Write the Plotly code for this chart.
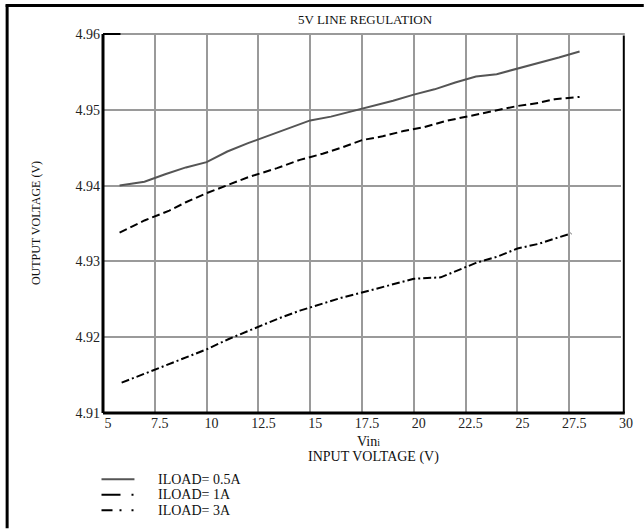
import plotly.graph_objects as go

# ---- data ----
x_05 = [5.8, 7.0, 8.0, 9.0, 10.0, 11.0, 12.0, 13.0, 14.0, 15.0, 16.0, 17.0, 18.0, 19.0,
        20.0, 21.0, 22.0, 23.0, 24.0, 25.0, 26.0, 27.0, 28.0]
y_05 = [4.9400, 4.9405, 4.9415, 4.9424, 4.9431, 4.9445, 4.9456, 4.9466, 4.9477, 4.9486,
        4.9491, 4.9498, 4.9505, 4.9512, 4.9520, 4.9527, 4.9536, 4.9544, 4.9547, 4.9554,
        4.9562, 4.9569, 4.9577]

x_1 = [5.8, 7.0, 8.2, 9.0, 10.0, 11.0, 12.0, 13.4, 14.5, 15.6, 16.5, 17.5, 18.5, 19.5,
       20.5, 21.5, 22.5, 23.5, 24.1, 25.0, 26.0, 26.8, 28.0]
y_1 = [4.9338, 4.9354, 4.9367, 4.9378, 4.9390, 4.9401, 4.9411, 4.9423, 4.9434, 4.9442,
       4.9450, 4.9460, 4.9465, 4.9472, 4.9477, 4.9485, 4.9491, 4.9497, 4.9500, 4.9505,
       4.9509, 4.9514, 4.9517]

x_3 = [5.9, 7.5, 8.5, 10.0, 11.1, 12.5, 13.5, 14.5, 15.6, 16.5, 17.5, 18.5, 20.0, 21.3,
       22.5, 23.0, 24.0, 25.0, 26.0, 26.8, 27.6]
y_3 = [4.9140, 4.9157, 4.9168, 4.9184, 4.9198, 4.9214, 4.9225, 4.9235, 4.9244, 4.9252,
       4.9259, 4.9266, 4.9277, 4.9279, 4.9293, 4.9298, 4.9306, 4.9317, 4.9323, 4.9330,
       4.9337]

x_ticks = [5, 7.5, 10, 12.5, 15, 17.5, 20, 22.5, 25, 27.5, 30]
x_tick_text = ["5", "7.5", "10", "12.5", "15", "17.5", "20", "22.5", "25", "27.5", "30"]
y_ticks = [4.91, 4.92, 4.93, 4.94, 4.95, 4.96]
y_tick_text = ["4.91", "4.92", "4.93", "4.94", "4.95", "4.96"]

series_names = ["ILOAD= 0.5A", "ILOAD= 1A", "ILOAD= 3A"]
series_colors = ["#555555", "#000000", "#000000"]
series_dash = ["solid", "8px,4px", "8px,3px,2px,3px"]
legend_dash = ["solid", "19px,11px,2px,30px", "11px,7px,2px,10px,2px,30px"]

# ---- layout geometry (pixels) ----
W, H = 644, 529
L, R, T, B = 102.5, 22.8, 33.5, 115.5
PW, PH = W - L - R, H - T - B


def xp(px):
    return (px - L) / PW


def yp(py):
    return (H - B - py) / PH


FONT = "Liberation Serif, Times New Roman, serif"
GRID = "#9a9a9a"
TXT = "#111111"

fig = go.Figure()
for xs, ys, nm, c, d in zip([x_05, x_1, x_3], [y_05, y_1, y_3], series_names,
                            series_colors, series_dash):
    fig.add_trace(go.Scatter(x=xs, y=ys, mode="lines", name=nm,
                             line=dict(color=c, width=2, dash=d)))

shapes = [
    # outer frame: top and left thick black lines
    dict(type="line", xref="paper", yref="paper", x0=xp(5), x1=xp(644), y0=yp(5), y1=yp(5),
         line=dict(color="black", width=3)),
    dict(type="line", xref="paper", yref="paper", x0=xp(6.5), x1=xp(6.5), y0=yp(4), y1=yp(529),
         line=dict(color="black", width=3)),
    # plot box: left and bottom black axes
    dict(type="line", xref="paper", yref="paper", x0=0, x1=0, y0=0, y1=1,
         line=dict(color="black", width=3)),
    dict(type="line", xref="paper", yref="paper", x0=0, x1=xp(625), y0=0, y1=0,
         line=dict(color="black", width=3)),
    # right black edge, slightly outside
    dict(type="line", xref="paper", yref="paper", x0=xp(624), x1=xp(624), y0=0, y1=yp(35),
         line=dict(color="black", width=2)),
    # top gray edge extension
    dict(type="line", xref="paper", yref="paper", x0=0, x1=xp(625), y0=1, y1=1,
         line=dict(color=GRID, width=2)),
    dict(type="line", xref="paper", yref="paper", x0=0, x1=xp(120), y0=1, y1=1,
         line=dict(color="black", width=2)),
]

annotations = [
    dict(text="5V LINE REGULATION", xref="paper", yref="paper", x=xp(365), y=yp(19),
         showarrow=False, xanchor="center", yanchor="middle",
         font=dict(family=FONT, size=13, color=TXT)),
    dict(text="OUTPUT VOLTAGE (V)", xref="paper", yref="paper", x=xp(35), y=0.5,
         showarrow=False, textangle=-90, xanchor="center", yanchor="middle",
         font=dict(family=FONT, size=12, color=TXT)),
    dict(text="Vin<span style='font-size:10px'>i</span>", xref="paper", yref="paper",
         x=xp(368), y=yp(442), showarrow=False, xanchor="center", yanchor="middle",
         font=dict(family=FONT, size=14, color=TXT)),
    dict(text="INPUT VOLTAGE (V)", xref="paper", yref="paper", x=xp(373), y=yp(458),
         showarrow=False, xanchor="center", yanchor="middle",
         font=dict(family=FONT, size=14, color=TXT)),
]

# legend key (drawn manually to match the compact reference spacing)
legend_y = [480, 495.5, 511]
for i, nm in enumerate(series_names):
    shapes.append(dict(type="line", xref="paper", yref="paper", x0=xp(101), x1=xp(134),
                       y0=yp(legend_y[i]), y1=yp(legend_y[i]),
                       line=dict(color=series_colors[i], width=2, dash=legend_dash[i])))
    annotations.append(dict(text=nm, xref="paper", yref="paper", x=xp(156), y=yp(legend_y[i]),
                            showarrow=False, xanchor="left", yanchor="middle",
                            font=dict(family=FONT, size=14, color=TXT)))

fig.update_layout(
    width=W, height=H,
    margin=dict(l=L, r=R, t=T, b=B, autoexpand=False),
    paper_bgcolor="white", plot_bgcolor="white",
    font=dict(family=FONT, size=14, color="#222222"),
    showlegend=False,
    xaxis=dict(range=[5, 30], tickvals=x_ticks, ticktext=x_tick_text,
               showgrid=True, gridcolor=GRID, gridwidth=2, zeroline=False,
               showline=False, ticks="", fixedrange=True, ticklabelshift=5,
               tickfont=dict(family=FONT, size=14, color="#222222")),
    yaxis=dict(range=[4.91, 4.96], tickvals=y_ticks, ticktext=y_tick_text,
               showgrid=True, gridcolor=GRID, gridwidth=2, zeroline=False,
               showline=False, ticks="", ticklabelstandoff=2, fixedrange=True,
               tickfont=dict(family=FONT, size=14, color="#222222")),
    shapes=shapes,
    annotations=annotations,
)

fig.write_html("out.html", config={"displayModeBar": False},
               post_script="document.body.style.margin='0';document.body.style.padding='0';")
